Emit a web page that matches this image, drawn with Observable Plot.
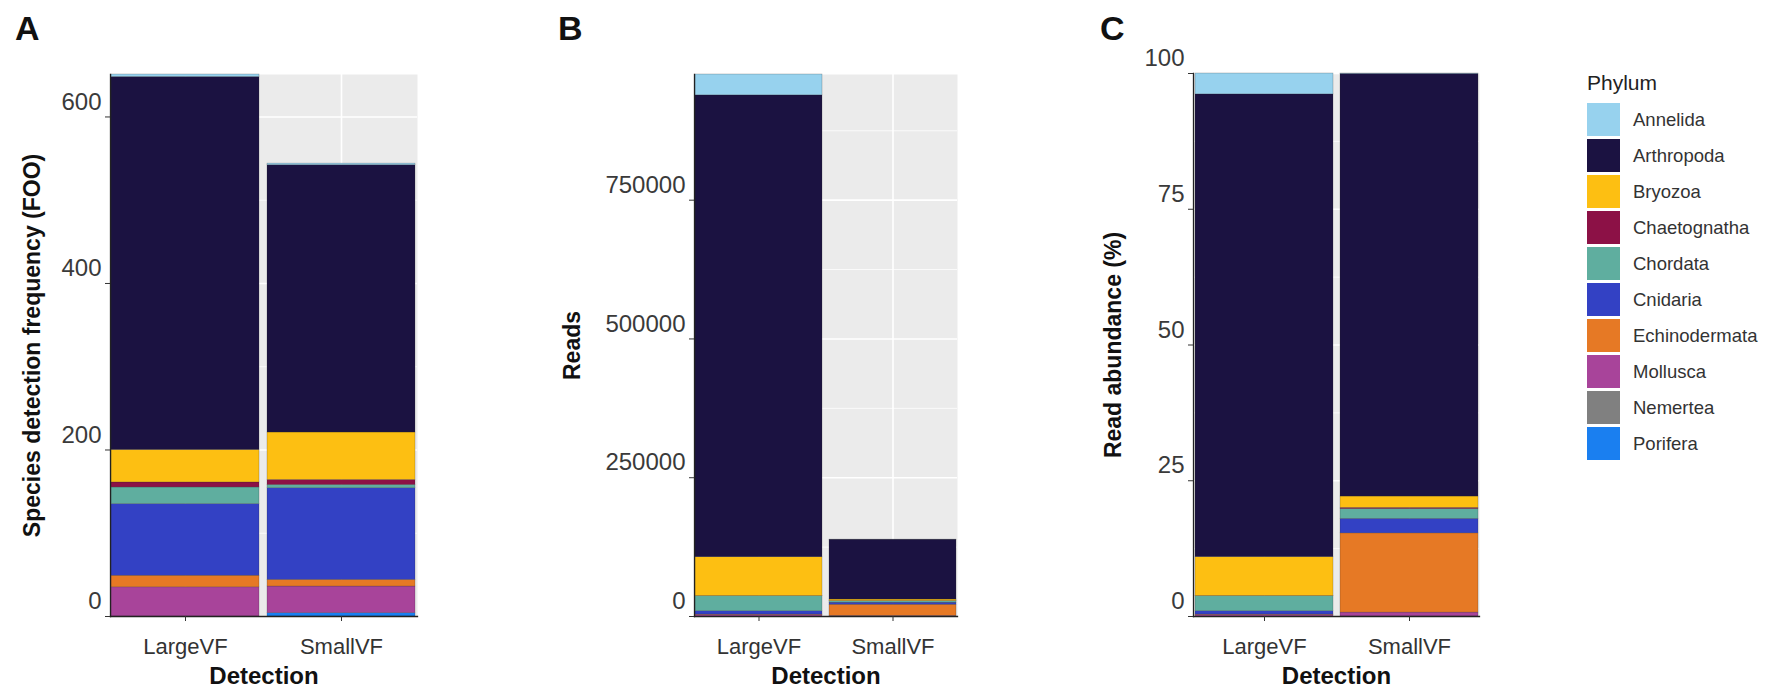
<!DOCTYPE html>
<html>
<head>
<meta charset="utf-8">
<script src="https://cdn.jsdelivr.net/npm/d3@7"></script>
<script src="https://cdn.jsdelivr.net/npm/@observablehq/plot@0.6"></script>
<style>
  body { margin: 0; background: #fff; font-family: "Liberation Sans", Arial, sans-serif; }
  #fig { position: relative; width: 1769px; height: 695px; overflow: hidden; background: #fff; }
  #fig .panel { position: absolute; top: 0; }
  #fig .letter { position: absolute; top: 8px; font-size: 34px; font-weight: bold; color: #111; line-height: 40px; }
  #legend { position: absolute; left: 1587px; top: 0; color: #222; }
  #legend .title { position: absolute; left: 0; top: 71px; font-size: 21px; white-space: nowrap; }
  #legend .item { position: absolute; left: 0; height: 33px; white-space: nowrap; }
  #legend .swatch { position: absolute; left: 0; top: 0; width: 33px; height: 33px; }
  #legend .name { position: absolute; left: 46px; top: 0; line-height: 33px; font-size: 18.5px; color: #333; }
</style>
</head>
<body>
<div id="fig"></div>
<script>
// Phyla, in legend order, with their fill colours
const phyla = ["Annelida", "Arthropoda", "Bryozoa", "Chaetognatha", "Chordata",
               "Cnidaria", "Echinodermata", "Mollusca", "Nemertea", "Porifera"];
const phylumColors = ["#97d2ee", "#1b1241", "#fdbf12", "#8c1146", "#5fae9f",
                      "#3341c4", "#e67925", "#a8449a", "#808080", "#1a7ff0"];
const detections = ["LargeVF", "SmallVF"];

// Species detection frequency (FOO) per phylum
const fooLargeVF = [3, 448, 39, 6, 20, 86, 14, 35, 0, 0];
const fooSmallVF = [2, 321, 57, 6, 4, 110, 8, 32, 0, 4];

// Read counts per phylum
const readsLargeVF = [37600, 832000, 70000, 300, 27000, 6000, 500, 3000, 0, 0];
const readsSmallVF = [100, 107800, 2900, 300, 2500, 3700, 20200, 1000, 0, 0];

// Axis ticks (major labelled, minor grid only)
const fooTicks = [0, 200, 400, 600];
const fooMinor = [100, 300, 500];
const readTicks = [0, 250000, 500000, 750000];
const readMinor = [125000, 375000, 625000, 875000];
const pctTicks = [0, 25, 50, 75, 100];
const pctMinor = [12.5, 37.5, 62.5, 87.5];

const FONT = "Liberation Sans, Arial, sans-serif";

// Long table, stacked from Porifera (bottom) up to Annelida (top)
function table(large, small) {
  const rows = [];
  [large, small].forEach((vals, j) => {
    for (let i = phyla.length - 1; i >= 0; i--) {
      rows.push({detection: detections[j], phylum: phyla[i], value: vals[i]});
    }
  });
  return rows;
}

// Read abundance as a share of each detection's total reads
function percent(vals) {
  const total = d3.sum(vals);
  return vals.map(v => v / total * 100);
}

function panel({rows, left, width, marginLeft, marginRight, marginTop, ticks, minor, yLabel, titleDx}) {
  const chart = Plot.plot({
    width, height: 695,
    marginLeft, marginRight, marginTop, marginBottom: 79,
    style: {fontFamily: FONT, background: "transparent", overflow: "visible"},
    x: {type: "band", domain: detections, paddingInner: 0.05, paddingOuter: 0.005, label: null},
    y: {label: null, nice: false},
    color: {domain: phyla, range: phylumColors},
    marks: [
      Plot.frame({fill: "#ebebeb"}),
      Plot.gridY(minor, {stroke: "#fff", strokeOpacity: 1, strokeWidth: 0.8}),
      Plot.gridY(ticks, {stroke: "#fff", strokeOpacity: 1, strokeWidth: 1.6}),
      Plot.gridX(detections, {stroke: "#fff", strokeOpacity: 1, strokeWidth: 1.6}),
      Plot.barY(rows, {
        x: "detection", y: "value", fill: "phylum",
        order: phyla.slice().reverse(),
        stroke: "#2a2a2a", strokeWidth: 0.4, strokeOpacity: 0.55
      }),
      Plot.frame({anchor: "left", stroke: "#222", strokeWidth: 1.3}),
      Plot.frame({anchor: "bottom", stroke: "#222", strokeWidth: 1.3}),
      Plot.axisY(ticks, {tickSize: 5, tickFormat: () => "", stroke: "#333", label: null}),
      Plot.text(ticks, {
        y: d => d, text: d => String(d), frameAnchor: "left",
        textAnchor: "end", dx: -9, dy: -15, fontSize: 24, fill: "#3a3a3a"
      }),
      Plot.axisX({
        tickSize: 5, tickPadding: 17, fontSize: 22, color: "#333",
        label: null
      }),
      Plot.text([yLabel], {
        text: d => d, frameAnchor: "left", textAnchor: "middle", rotate: -90, dx: titleDx,
        fontSize: 23, fontWeight: "bold", fill: "#111"
      }),
      Plot.text(["Detection"], {
        text: d => d, frameAnchor: "bottom", dy: 67,
        fontSize: 24, fontWeight: "bold", fill: "#111"
      })
    ]
  });
  chart.classList.add("panel");
  chart.style.left = left + "px";
  return chart;
}

const fig = document.getElementById("fig");

fig.appendChild(panel({
  rows: table(fooLargeVF, fooSmallVF), left: 0, width: 460,
  marginLeft: 110, marginRight: 43, marginTop: 74,
  ticks: fooTicks, minor: fooMinor,
  yLabel: "Species detection frequency (FOO)", titleDx: -78
}));

fig.appendChild(panel({
  rows: table(readsLargeVF, readsSmallVF), left: 460, width: 520,
  marginLeft: 234, marginRight: 23, marginTop: 74,
  ticks: readTicks, minor: readMinor,
  yLabel: "Reads", titleDx: -122
}));

fig.appendChild(panel({
  rows: table(percent(readsLargeVF), percent(readsSmallVF)), left: 980, width: 560,
  marginLeft: 213, marginRight: 61, marginTop: 73,
  ticks: pctTicks, minor: pctMinor,
  yLabel: "Read abundance (%)", titleDx: -80
}));

// Panel letters
[["A", 15], ["B", 558], ["C", 1100]].forEach(([t, x]) => {
  const d = document.createElement("div");
  d.className = "letter";
  d.style.left = x + "px";
  d.textContent = t;
  fig.appendChild(d);
});

// Phylum legend
const legend = document.createElement("div");
legend.id = "legend";
legend.innerHTML = `<div class="title">Phylum</div>` + phyla.map((p, i) =>
  `<div class="item" style="top:${103 + 36 * i}px"><div class="swatch" style="background:${phylumColors[i]}"></div><div class="name">${p}</div></div>`
).join("");
fig.appendChild(legend);
</script>
</body>
</html>
